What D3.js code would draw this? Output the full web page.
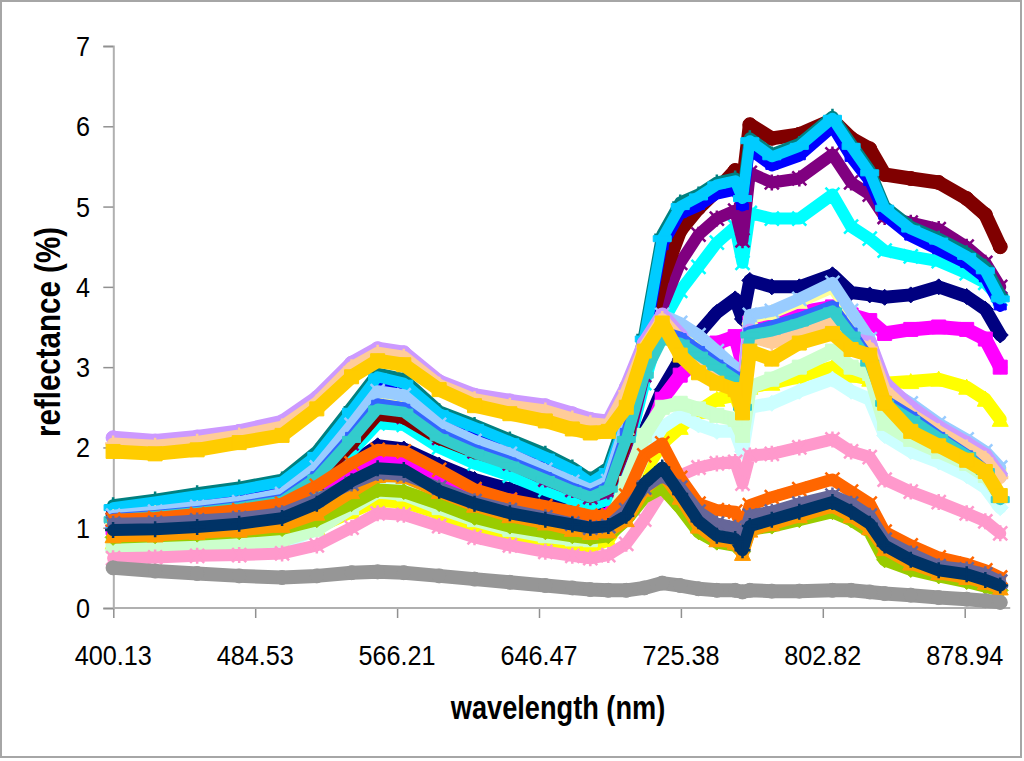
<!DOCTYPE html>
<html>
<head>
<meta charset="utf-8">
<script src="https://cdn.jsdelivr.net/npm/d3@7"></script>
<style>
  body { margin: 0; background: #fff; }
  svg { display: block; }
  text { font-family: "Liberation Sans", Arial, sans-serif; fill: #000; }
</style>
</head>
<body>
<div id="chart"></div>
<script>
// sampled wavelengths (nm)
const wavelengths = [400, 425, 450, 475, 500, 520, 540, 555, 570, 590, 610, 630, 650, 665, 675, 685, 695, 705, 715, 725, 735, 745, 755, 759, 763, 775, 790, 808, 818, 828, 836, 850, 865, 880, 890, 898];

const xTickLabels = ["400.13", "484.53", "566.21", "646.47", "725.38", "802.82", "878.94"];
const yTickValues = [0, 1, 2, 3, 4, 5, 6, 7];

// Excel default series colours and automatic markers
const seriesColors = ["#000080", "#FF00FF", "#FFFF00", "#00FFFF", "#800080", "#800000", "#008080", "#0000FF", "#00CCFF",
  "#CCFFFF", "#CCFFCC", "#FFFF99", "#99CCFF", "#FF99CC", "#CC99FF", "#FFCC99", "#3366FF", "#33CCCC",
  "#99CC00", "#FFCC00", "#FF9900", "#FF6600", "#666699", "#969696", "#003366"];
const seriesMarkers = ["diamond", "square", "triangle", "x", "star", "circle", "plus", "dot", "dash",
  "diamond", "square", "triangle", "x", "star", "circle", "plus", "dot", "dash",
  "diamond", "square", "triangle", "x", "star", "circle", "plus"];

// reflectance (%) per sample
const s01 = [1.05, 1.08, 1.12, 1.16, 1.24, 1.45, 1.8, 2.02, 1.98, 1.78, 1.6, 1.48, 1.35, 1.25, 1.2, 1.3, 1.75, 2.2, 2.72, 3.1, 3.42, 3.68, 3.85, 3.6, 4.08, 4.0, 4.0, 4.15, 3.93, 3.9, 3.87, 3.9, 4.0, 3.88, 3.72, 3.4];
const s02 = [1.0, 1.02, 1.05, 1.08, 1.15, 1.35, 1.65, 1.85, 1.82, 1.62, 1.45, 1.33, 1.22, 1.12, 1.08, 1.15, 1.5, 2.0, 2.6, 2.9, 3.1, 3.3, 3.38, 3.05, 3.55, 3.6, 3.68, 3.75, 3.65, 3.58, 3.42, 3.47, 3.5, 3.47, 3.35, 3.0];
const s03 = [0.82, 0.83, 0.85, 0.87, 0.9, 1.0, 1.2, 1.34, 1.32, 1.18, 1.02, 0.9, 0.82, 0.78, 0.76, 0.85, 1.2, 1.7, 2.05, 2.25, 2.45, 2.6, 2.65, 2.4, 2.75, 2.8, 2.88, 3.0, 2.9, 2.85, 2.8, 2.82, 2.85, 2.75, 2.6, 2.35];
const s04 = [1.08, 1.1, 1.13, 1.17, 1.25, 1.5, 1.95, 2.3, 2.28, 2.0, 1.8, 1.65, 1.47, 1.35, 1.28, 1.35, 1.9, 2.8, 3.55, 3.95, 4.25, 4.55, 4.75, 4.3, 4.92, 4.85, 4.85, 5.15, 4.75, 4.6, 4.45, 4.38, 4.32, 4.17, 4.05, 3.85];
const s05 = [1.1, 1.12, 1.16, 1.2, 1.28, 1.55, 2.05, 2.42, 2.38, 2.12, 1.95, 1.8, 1.6, 1.47, 1.38, 1.45, 2.0, 2.9, 3.75, 4.3, 4.65, 4.85, 4.95, 4.58, 5.42, 5.3, 5.35, 5.65, 5.3, 5.15, 4.87, 4.8, 4.72, 4.5, 4.3, 4.0];
const s06 = [1.17, 1.2, 1.25, 1.3, 1.38, 1.62, 2.05, 2.42, 2.38, 2.12, 1.95, 1.82, 1.65, 1.5, 1.4, 1.5, 2.1, 3.2, 4.1, 4.7, 4.98, 5.2, 5.45, 5.25, 6.02, 5.85, 5.9, 6.08, 5.85, 5.72, 5.4, 5.35, 5.3, 5.1, 4.9, 4.5];
const s07 = [1.28, 1.35, 1.43, 1.5, 1.6, 1.95, 2.5, 2.92, 2.85, 2.45, 2.28, 2.1, 1.92, 1.75, 1.6, 1.75, 2.4, 3.4, 4.65, 5.05, 5.15, 5.3, 5.35, 5.12, 5.85, 5.65, 5.78, 6.12, 5.78, 5.45, 5.0, 4.75, 4.6, 4.42, 4.25, 3.9];
const s08 = [1.2, 1.27, 1.34, 1.42, 1.52, 1.85, 2.4, 2.82, 2.75, 2.38, 2.2, 2.02, 1.84, 1.68, 1.52, 1.65, 2.3, 3.25, 4.5, 4.9, 5.0, 5.15, 5.2, 5.0, 5.7, 5.5, 5.62, 5.98, 5.6, 5.3, 4.88, 4.62, 4.45, 4.28, 4.1, 3.75];
const s09 = [1.25, 1.32, 1.4, 1.47, 1.57, 1.9, 2.45, 2.88, 2.8, 2.42, 2.25, 2.07, 1.88, 1.72, 1.56, 1.7, 2.35, 3.35, 4.6, 5.0, 5.12, 5.27, 5.32, 5.1, 5.82, 5.62, 5.75, 6.1, 5.75, 5.42, 4.98, 4.72, 4.57, 4.38, 4.2, 3.85];
const s10 = [0.72, 0.72, 0.73, 0.75, 0.8, 0.98, 1.35, 1.62, 1.58, 1.38, 1.2, 1.05, 0.95, 0.9, 0.88, 0.95, 1.4, 1.9, 2.25, 2.4, 2.28, 2.2, 2.2, 1.95, 2.5, 2.55, 2.7, 2.85, 2.7, 2.6, 2.15, 1.95, 1.82, 1.65, 1.5, 1.25];
const s11 = [0.77, 0.77, 0.79, 0.81, 0.85, 0.98, 1.25, 1.45, 1.42, 1.25, 1.1, 0.98, 0.9, 0.86, 0.85, 0.98, 1.55, 2.15, 2.5, 2.55, 2.48, 2.4, 2.35, 2.15, 2.75, 2.85, 3.0, 3.2, 3.0, 2.92, 2.3, 2.1, 1.95, 1.8, 1.65, 1.4];
const s12 = [1.13, 1.18, 1.24, 1.3, 1.4, 1.72, 2.25, 2.65, 2.6, 2.25, 2.05, 1.9, 1.7, 1.55, 1.45, 1.55, 2.25, 3.1, 3.6, 3.52, 3.38, 3.18, 2.98, 2.7, 3.62, 3.68, 3.82, 4.0, 3.68, 3.32, 2.72, 2.52, 2.28, 2.08, 1.93, 1.72];
const s13 = [1.15, 1.2, 1.26, 1.32, 1.42, 1.75, 2.28, 2.7, 2.65, 2.28, 2.08, 1.92, 1.72, 1.57, 1.47, 1.58, 2.3, 3.2, 3.65, 3.55, 3.4, 3.2, 3.0, 2.72, 3.65, 3.7, 3.85, 4.05, 3.7, 3.35, 2.75, 2.55, 2.3, 2.1, 1.95, 1.75];
const s14 = [0.62, 0.63, 0.65, 0.66, 0.68, 0.78, 1.0, 1.18, 1.16, 1.02, 0.88, 0.78, 0.7, 0.65, 0.62, 0.66, 0.8, 1.1, 1.45, 1.65, 1.75, 1.8, 1.82, 1.55, 1.9, 1.92, 2.0, 2.1, 1.95, 1.88, 1.6, 1.45, 1.32, 1.18, 1.08, 0.93];
const s15 = [2.12, 2.08, 2.13, 2.2, 2.32, 2.62, 3.05, 3.23, 3.18, 2.82, 2.65, 2.58, 2.52, 2.42, 2.35, 2.32, 2.75, 3.3, 3.65, 3.4, 3.05, 2.95, 2.85, 2.6, 3.45, 3.4, 3.45, 3.6, 3.35, 3.3, 2.8, 2.5, 2.25, 2.05, 1.9, 1.65];
const s16 = [2.05, 2.02, 2.07, 2.15, 2.26, 2.56, 3.0, 3.18, 3.13, 2.78, 2.6, 2.52, 2.46, 2.36, 2.3, 2.28, 2.7, 3.25, 3.6, 3.35, 3.0, 2.9, 2.8, 2.55, 3.38, 3.3, 3.4, 3.55, 3.3, 3.24, 2.72, 2.42, 2.2, 2.0, 1.86, 1.62];
const s17 = [1.12, 1.16, 1.21, 1.27, 1.36, 1.66, 2.15, 2.55, 2.5, 2.18, 1.98, 1.83, 1.65, 1.5, 1.42, 1.52, 2.2, 3.0, 3.45, 3.38, 3.22, 3.05, 2.9, 2.55, 3.45, 3.52, 3.62, 3.77, 3.45, 3.12, 2.6, 2.4, 2.15, 1.92, 1.72, 1.38];
const s18 = [1.1, 1.14, 1.19, 1.25, 1.33, 1.62, 2.1, 2.48, 2.44, 2.12, 1.93, 1.78, 1.6, 1.46, 1.38, 1.48, 2.1, 2.9, 3.35, 3.3, 3.15, 3.0, 2.85, 2.5, 3.4, 3.45, 3.55, 3.7, 3.4, 3.05, 2.55, 2.35, 2.12, 1.9, 1.7, 1.35];
const s19 = [0.88, 0.9, 0.92, 0.95, 0.99, 1.1, 1.3, 1.47, 1.45, 1.3, 1.13, 1.02, 0.95, 0.9, 0.87, 0.9, 1.1, 1.38, 1.5, 1.25, 0.95, 0.82, 0.78, 0.7, 0.98, 1.02, 1.1, 1.2, 1.1, 0.95, 0.6, 0.48, 0.4, 0.33, 0.27, 0.22];
const s20 = [1.95, 1.92, 1.97, 2.06, 2.15, 2.48, 2.88, 3.08, 3.03, 2.72, 2.52, 2.42, 2.33, 2.23, 2.18, 2.2, 2.5, 3.2, 3.55, 3.15, 2.93, 2.8, 2.72, 2.43, 3.2, 3.1, 3.3, 3.42, 3.22, 3.15, 2.55, 2.2, 2.02, 1.84, 1.7, 1.4];
const s21 = [0.9, 0.91, 0.94, 0.97, 1.03, 1.18, 1.45, 1.65, 1.64, 1.45, 1.28, 1.15, 1.06, 0.98, 0.94, 0.96, 1.1, 1.48, 1.68, 1.38, 1.02, 0.85, 0.82, 0.68, 0.97, 1.05, 1.15, 1.27, 1.15, 1.0, 0.74, 0.56, 0.44, 0.38, 0.32, 0.25];
const s22 = [1.1, 1.12, 1.17, 1.22, 1.3, 1.52, 1.8, 1.97, 1.95, 1.72, 1.48, 1.35, 1.27, 1.2, 1.15, 1.15, 1.4, 1.9, 2.05, 1.62, 1.3, 1.22, 1.2, 1.0, 1.28, 1.38, 1.48, 1.6, 1.45, 1.3, 0.95, 0.78, 0.63, 0.55, 0.47, 0.38];
const s23 = [1.05, 1.06, 1.09, 1.12, 1.18, 1.35, 1.55, 1.68, 1.66, 1.5, 1.33, 1.22, 1.13, 1.05, 1.0, 1.02, 1.22, 1.5, 1.65, 1.5, 1.2, 1.05, 1.0, 0.85, 1.15, 1.2, 1.3, 1.4, 1.3, 1.15, 0.85, 0.68, 0.52, 0.48, 0.42, 0.33];
const s24 = [0.5, 0.46, 0.43, 0.4, 0.38, 0.4, 0.44, 0.45, 0.44, 0.4, 0.36, 0.32, 0.28, 0.25, 0.23, 0.22, 0.22, 0.25, 0.31, 0.28, 0.24, 0.22, 0.22, 0.2, 0.22, 0.21, 0.21, 0.22, 0.22, 0.2, 0.18, 0.16, 0.13, 0.11, 0.09, 0.07];
const s25 = [0.97, 0.98, 1.01, 1.05, 1.12, 1.3, 1.58, 1.74, 1.72, 1.46, 1.3, 1.18, 1.1, 1.04, 1.0, 1.02, 1.15, 1.55, 1.75, 1.42, 1.08, 0.9, 0.86, 0.72, 1.02, 1.1, 1.2, 1.32, 1.2, 1.05, 0.78, 0.6, 0.47, 0.42, 0.35, 0.28];

const seriesValues = [s01, s02, s03, s04, s05, s06, s07, s08, s09, s10, s11, s12, s13,
  s14, s15, s16, s17, s18, s19, s20, s21, s22, s23, s24, s25];

// marker shapes (Excel style)
const markerShapes = {
  diamond:  { d: "M0,-8L8,0L0,8L-8,0Z", filled: true, band: 13 },
  square:   { d: "M-7,-7H7V7H-7Z", filled: true, band: 14 },
  triangle: { d: "M0,-8L8,7H-8Z", filled: true, band: 13 },
  x:        { d: "M-7,-7L7,7M7,-7L-7,7", filled: false, band: 12 },
  star:     { d: "M-7,-7L7,7M7,-7L-7,7M0,-8V8", filled: false, band: 12 },
  circle:   { d: "M-7,0A7,7 0 1,0 7,0A7,7 0 1,0 -7,0Z", filled: true, band: 14 },
  plus:     { d: "M-8,0H8M0,-8V8", filled: false, band: 12 },
  dot:      { d: "M-6,-3H6V3H-6Z", filled: true, band: 10 },
  dash:     { d: "M-9,-3H9V3H-9Z", filled: true, band: 11 }
};

function drawChart() {
  const W = 1024, H = 761;
  const left = 113.3, tickStep = 141.9;
  const top = 46, bottom = 608;

  const svg = d3.select("#chart").append("svg")
    .attr("width", W)
    .attr("height", H);

  // chart area border
  svg.append("rect")
    .attr("x", 1).attr("y", 1)
    .attr("width", 1020).attr("height", 756)
    .attr("fill", "#fff")
    .attr("stroke", "#a6a6a6")
    .attr("stroke-width", 2);

  // category-like axis: labelled wavelengths sit at equal spacing
  const tickWl = xTickLabels.map(Number);
  const x = d3.scaleLinear()
    .domain(tickWl)
    .range(tickWl.map((d, i) => left + i * tickStep));
  const y = d3.scaleLinear().domain([0, 7]).range([bottom, top]);

  const plotRight = x(wavelengths[wavelengths.length - 1]) + 10;

  // y axis
  const yAxis = svg.append("g")
    .attr("transform", `translate(${left},0)`)
    .call(d3.axisLeft(y).tickValues(yTickValues).tickSize(10).tickPadding(0).tickFormat(""));
  yAxis.select(".domain").attr("stroke", "#b0b0b0").attr("stroke-width", 2);
  yAxis.selectAll(".tick line").attr("stroke", "#909090").attr("stroke-width", 1.5);

  yTickValues.forEach(v => {
    svg.append("text")
      .attr("transform", `translate(90,${y(v) + 10}) scale(0.9,1)`)
      .attr("text-anchor", "end")
      .style("font-size", "28px")
      .text(v);
  });

  // x axis
  const xAxis = svg.append("g")
    .attr("transform", `translate(0,${bottom})`)
    .call(d3.axisBottom(x).tickValues(tickWl).tickSize(10).tickFormat(""));
  xAxis.select(".domain").remove();
  xAxis.selectAll(".tick line").attr("stroke", "#909090").attr("stroke-width", 1.5);
  xAxis.append("line")
    .attr("x1", left).attr("x2", plotRight)
    .attr("y1", 0).attr("y2", 0)
    .attr("stroke", "#b0b0b0")
    .attr("stroke-width", 2);

  xTickLabels.forEach((lab, i) => {
    svg.append("text")
      .attr("transform", `translate(${x(tickWl[i])},665) scale(0.9,1)`)
      .attr("text-anchor", "middle")
      .style("font-size", "28px")
      .text(lab);
  });

  // axis titles
  svg.append("text")
    .attr("transform", "translate(558,719) scale(0.8,1)")
    .attr("text-anchor", "middle")
    .style("font-size", "34px")
    .style("font-weight", "bold")
    .text("wavelength (nm)");

  svg.append("text")
    .attr("transform", "translate(60,332) rotate(-90) scale(0.82,1)")
    .attr("text-anchor", "middle")
    .style("font-size", "36px")
    .style("font-weight", "bold")
    .text("reflectance (%)");

  // series: dense markers in the original form a band, so draw a thick line plus markers
  const line = d3.line()
    .x((d, i) => x(wavelengths[i]))
    .y(d => y(d));

  const plot = svg.append("g");

  seriesValues.forEach((vals, k) => {
    const color = seriesColors[k];
    const shape = markerShapes[seriesMarkers[k]];
    const g = plot.append("g");

    g.append("path")
      .attr("d", line(vals))
      .attr("fill", "none")
      .attr("stroke", color)
      .attr("stroke-width", shape.band)
      .attr("stroke-linejoin", "round")
      .attr("stroke-linecap", "round");

    g.selectAll("path.marker")
      .data(vals)
      .enter().append("path")
      .attr("class", "marker")
      .attr("transform", (d, i) => `translate(${x(wavelengths[i])},${y(d)})`)
      .attr("d", shape.d)
      .attr("fill", shape.filled ? color : "none")
      .attr("stroke", color)
      .attr("stroke-width", shape.filled ? 1 : 2.5);
  });
}

document.addEventListener("DOMContentLoaded", drawChart);
</script>
</body>
</html>
